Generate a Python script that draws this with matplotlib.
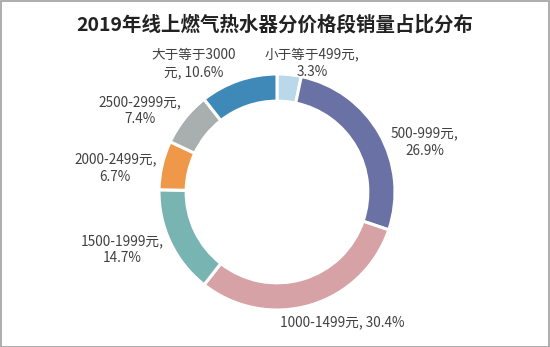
import matplotlib
matplotlib.use('Agg')
import matplotlib.pyplot as plt
from matplotlib.patches import Rectangle

plt.rcParams['font.family'] = ['Noto Sans CJK SC', 'DejaVu Sans']

# data
title = '2019年线上燃气热水器分价格段销量占比分布'
categories = ['小于等于499元', '500-999元', '1000-1499元', '1500-1999元',
              '2000-2499元', '2500-2999元', '大于等于3000元']
shares = [3.3, 26.9, 30.4, 14.7, 6.7, 7.4, 10.6]
label_texts = ['小于等于499元,\n3.3%', '500-999元,\n26.9%', '1000-1499元, 30.4%',
               '1500-1999元,\n14.7%', '2000-2499元,\n6.7%', '2500-2999元,\n7.4%',
               '大于等于3000\n元, 10.6%']
colors = ['#b9d8ea', '#6a72a5', '#d7a2a6', '#78b4b2', '#f0984a', '#a9aeae', '#3f89b9']

# label positions (in pie radius units)
label_pos = [(0.30, 1.09), (1.25, 0.42), (0.55, -1.10), (-1.31, -0.49),
             (-1.37, 0.20), (-1.16, 0.69), (-0.71, 1.09)]

W, H = 550, 347
fig = plt.figure(figsize=(W / 100, H / 100), dpi=100)

# grey frame
fig.patches.append(Rectangle((0.001, 0.001), 0.997, 0.996, transform=fig.transFigure,
                             fill=False, edgecolor='#a0a0a0', linewidth=1.2))

cx, cy, r = 277, 192, 118
ax = fig.add_axes([(cx - r) / W, (H - cy - r) / H, 2 * r / W, 2 * r / H])
ax.pie(shares, colors=colors, startangle=90, counterclock=False, radius=1,
       wedgeprops=dict(width=0.23, edgecolor='white', linewidth=2.2))
ax.set_xlim(-1, 1)
ax.set_ylim(-1, 1)
ax.axis('off')

for txt, (x, y) in zip(label_texts, label_pos):
    ax.text(x, y, txt, ha='center', va='center', fontsize=9.8, color='#404040',
            linespacing=1.3)

fig.text(0.5, 1 - 25 / H, title, ha='center', va='center', fontsize=14,
         fontweight='bold', color='#222222')

fig.savefig('out.png', dpi=100)
